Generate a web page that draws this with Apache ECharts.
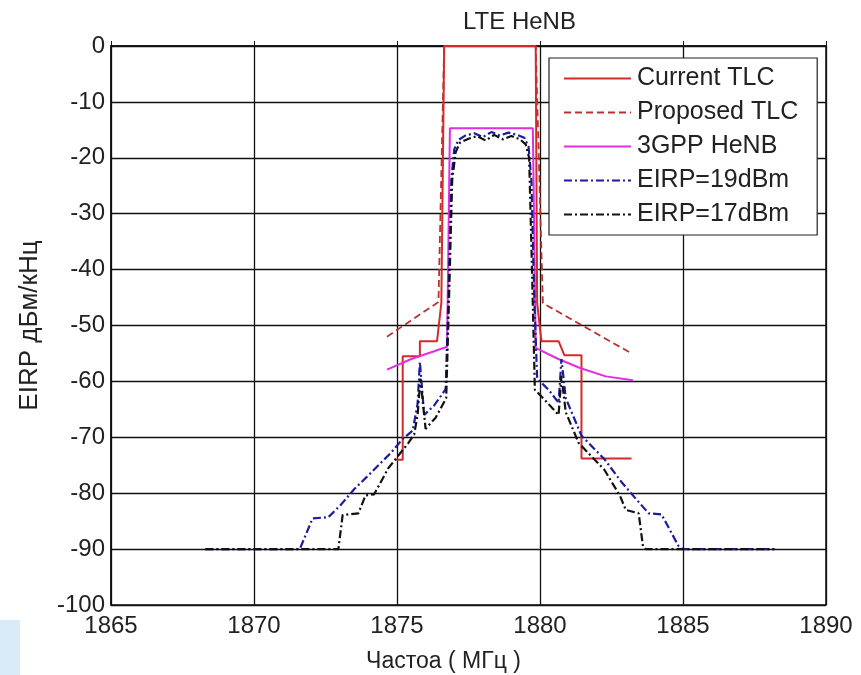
<!DOCTYPE html>
<html>
<head>
<meta charset="utf-8">
<script src="https://cdn.jsdelivr.net/npm/echarts@6/dist/echarts.min.js"></script>
<style>
    html, body {margin: 0; padding: 0; background: #fff;}
    #chart-henb {width: 861px; height: 675px;}
</style>
</head>
<body>
<div id="chart-henb"></div>
<script>
// frequency (MHz), EIRP (dBm/kHz) pairs
let currentTlc = [[1874.95, -74], [1875.2, -74], [1875.2, -55.5], [1875.8, -55.5], [1875.8, -52.8], [1876.4, -52.8],
    [1876.55, -46], [1876.65, 0], [1879.85, 0], [1879.9, -46], [1880.05, -52.8], [1880.65, -52.8], [1880.85, -55.3],
    [1881.45, -55.3], [1881.45, -73.8], [1883.2, -73.8]];
let proposedTlc = [[1874.65, -52], [1876.45, -45.8], [1876.65, 0], [1879.85, 0], [1880.1, -46], [1883.2, -55]];
let henb3gpp = [[1874.65, -57.9], [1875.5, -56], [1876.3, -54.6], [1876.75, -53.8], [1876.85, -14.7], [1879.75, -14.7],
    [1879.85, -54], [1880.6, -55.9], [1881.4, -57.6], [1882.3, -59.1], [1883.25, -59.8]];
let eirp19 = [[1868.3, -90], [1871.6, -90], [1872.05, -84.5], [1872.6, -84.3], [1873.05, -82], [1873.5, -79.3],
    [1874.0, -76.8], [1874.8, -72.7], [1875.2, -70.3], [1875.55, -68.8], [1875.72, -64], [1875.8, -56.5],
    [1875.95, -66], [1876.3, -64.3], [1876.7, -61.4], [1876.8, -45], [1876.9, -24], [1877.0, -18.5],
    [1877.15, -16.8], [1877.4, -16.0], [1877.7, -15.6], [1878.0, -16.3], [1878.3, -15.4], [1878.6, -16.0],
    [1878.9, -15.5], [1879.2, -15.9], [1879.45, -16.4], [1879.6, -18], [1879.7, -24], [1879.8, -45],
    [1879.9, -59.5], [1880.3, -61.5], [1880.65, -63.8], [1880.75, -56], [1880.9, -63], [1881.45, -69.7],
    [1882.25, -73.9], [1882.85, -78], [1883.3, -80.7], [1883.8, -83.6], [1884.25, -83.8], [1884.85, -89.5],
    [1885.0, -90], [1888.2, -90]];
let eirp17 = [[1868.3, -90], [1872.95, -90], [1873.1, -83.9], [1873.65, -83.6], [1873.9, -80.4], [1874.2, -80.2],
    [1874.7, -75.5], [1875.4, -71], [1875.6, -69.5], [1875.72, -66], [1875.82, -59.5], [1876.0, -68.5],
    [1876.35, -66.5], [1876.72, -63], [1876.82, -45], [1876.93, -24], [1877.05, -19], [1877.2, -17.3],
    [1877.5, -16.6], [1877.8, -16.1], [1878.1, -16.9], [1878.4, -15.9], [1878.7, -16.7], [1879.0, -16.1],
    [1879.3, -16.7], [1879.5, -17.6], [1879.62, -20], [1879.72, -40], [1879.82, -61.5], [1880.2, -63.5],
    [1880.65, -66], [1880.75, -59], [1880.9, -65.5], [1881.35, -71], [1882.25, -75.8], [1882.8, -80.5],
    [1883.0, -83], [1883.45, -83.6], [1883.6, -89.5], [1883.7, -90], [1888.2, -90]];

let seriesNames = ['Current TLC', 'Proposed TLC', '3GPP HeNB', 'EIRP=19dBm', 'EIRP=17dBm'];
let xTicks = [1865, 1890, 5];
let yTicks = [-100, 0, 10];

let myChart = echarts.init(document.getElementById('chart-henb'));
let fontName = 'Liberation Sans';

function lineSeries(name, data, color, width, type, z) {
    return {
        name: name,
        type: 'line',
        data: data,
        symbol: 'none',
        z: z,
        animation: false,
        lineStyle: {color: color, width: width, type: type},
        itemStyle: {color: color}
    };
}

let option = {
    backgroundColor: '#fff',
    textStyle: {fontFamily: fontName},
    title: {
        text: 'LTE HeNB',
        left: 458,
        top: 5,
        textStyle: {fontFamily: fontName, fontSize: 24, fontWeight: 'normal', color: '#222'}
    },
    grid: {
        left: 111, right: 35, top: 46, bottom: 70,
        outerBoundsMode: 'none',
        show: true, borderColor: '#111', borderWidth: 1.5, backgroundColor: '#fff'
    },
    legend: {
        orient: 'vertical',
        left: 549, top: 58,
        padding: [8, 19, 8, 14],
        itemGap: 9,
        itemWidth: 67, itemHeight: 14,
        backgroundColor: '#fff',
        borderColor: '#222', borderWidth: 1.2,
        itemStyle: {opacity: 0},
        data: seriesNames,
        textStyle: {fontFamily: fontName, fontSize: 25, color: '#222', padding: [0, 0, 0, 1]}
    },
    xAxis: {
        type: 'value',
        min: xTicks[0], max: xTicks[1], interval: xTicks[2],
        name: 'Частоа ( МГц )',
        nameLocation: 'middle', nameGap: 45,
        nameTextStyle: {fontFamily: fontName, fontSize: 23, color: '#222', padding: [0, 50, 0, 0]},
        axisLine: {show: true, lineStyle: {color: '#111', width: 1.5}},
        axisTick: {show: true, inside: true, length: 5, lineStyle: {color: '#111'}},
        axisLabel: {fontFamily: fontName, fontSize: 24, color: '#222', margin: 9, formatter: v => String(v)},
        splitLine: {show: true, lineStyle: {color: '#111', width: 1.3}}
    },
    yAxis: {
        type: 'value',
        min: yTicks[0], max: yTicks[1], interval: yTicks[2],
        name: 'EIRP дБм/кНц',
        nameLocation: 'middle', nameGap: 68,
        nameTextStyle: {fontFamily: fontName, fontSize: 26, color: '#222'},
        axisLine: {show: true, lineStyle: {color: '#111', width: 1.5}},
        axisTick: {show: true, inside: true, length: 5, lineStyle: {color: '#111'}},
        axisLabel: {fontFamily: fontName, fontSize: 24, color: '#222', margin: 6},
        splitLine: {show: true, lineStyle: {color: '#111', width: 1.3}}
    },
    graphic: [{
        type: 'rect',
        shape: {x: 0, y: 620, width: 20, height: 55},
        style: {fill: '#d8ebf6'},
        silent: true
    }],
    series: [
        lineSeries(seriesNames[0], currentTlc, '#d42a2a', 2, 'solid', 5),
        lineSeries(seriesNames[1], proposedTlc, '#b8322e', 1.8, [7, 4], 4),
        lineSeries(seriesNames[2], henb3gpp, '#e02ee0', 2, 'solid', 6),
        lineSeries(seriesNames[3], eirp19, '#1c1c9c', 2.2, [8, 3, 2, 3], 7),
        lineSeries(seriesNames[4], eirp17, '#111111', 2.2, [8, 3, 2, 3], 8)
    ]
};
option && myChart.setOption(option);
</script>
</body>
</html>
